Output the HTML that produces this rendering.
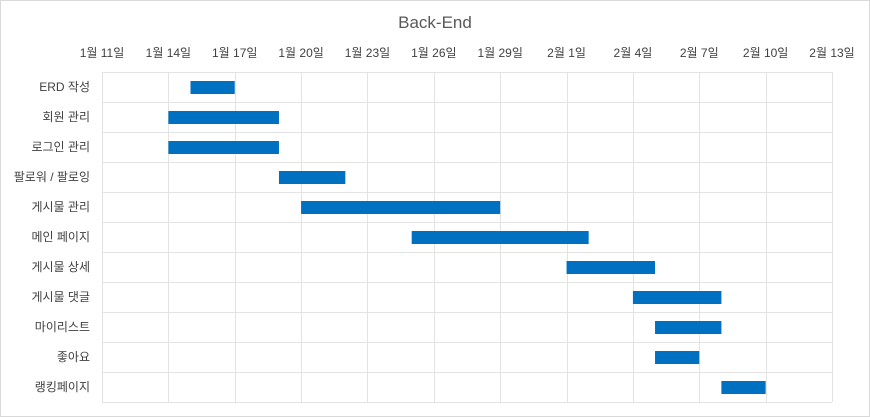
<!DOCTYPE html>
<html><head><meta charset="utf-8">
<style>
html,body{margin:0;padding:0;background:#fff;}
svg{display:block;font-family:"Liberation Sans","Noto Sans CJK KR",sans-serif;}
</style></head>
<body>
<svg id="chart" width="870" height="417" viewBox="0 0 870 417">
<rect x="0.5" y="0.5" width="869" height="416" fill="#fff" stroke="#d9d9d9"/>
<text x="435" y="28" text-anchor="middle" font-size="17" fill="#595959">Back-End</text>
<g id="grid"></g><g id="xticks"></g><g id="ylabels"></g><g id="bars"></g>
</svg>
<script>
const tasks=["ERD 작성","회원 관리","로그인 관리","팔로워 / 팔로잉","게시물 관리","메인 페이지","게시물 상세","게시물 댓글","마이리스트","좋아요","랭킹페이지"];
const startDays=[4,3,3,8,9,14,21,24,25,25,28];
const durations=[2,5,5,3,9,8,4,4,3,2,2];
const tickDays=[0,3,6,9,12,15,18,21,24,27,30,33];
const tickLabels=["1월 11일","1월 14일","1월 17일","1월 20일","1월 23일","1월 26일","1월 29일","2월 1일","2월 4일","2월 7일","2월 10일","2월 13일"];
const NS="http://www.w3.org/2000/svg";
const x0=102,x1=832,dMax=33,y0=72,rowH=30;
const xs=d=>x0+(x1-x0)*d/dMax;
const ys=i=>y0+i*rowH;
function mk(t,a,p){const e=document.createElementNS(NS,t);for(const k in a)e.setAttribute(k,a[k]);p.appendChild(e);return e;}
const grid=document.getElementById('grid'),xt=document.getElementById('xticks'),yl=document.getElementById('ylabels'),bars=document.getElementById('bars');
for(let i=0;i<=tasks.length;i++){
  const l=mk('line',{x1:x0,x2:x1,y1:ys(i)+0.5,y2:ys(i)+0.5,stroke:'#e3e3e3'},grid);
  
  
}
tickDays.forEach((d,i)=>{
  const l=mk('line',{x1:Math.round(xs(d))+0.5,x2:Math.round(xs(d))+0.5,y1:y0,y2:ys(tasks.length),stroke:'#e3e3e3'},grid);
  
  
  const t=mk('text',{x:xs(d),y:57,'text-anchor':'middle','font-size':'12',fill:'#404040'},xt);
  t.textContent=tickLabels[i];
  
  
});
tasks.forEach((n,i)=>{
  const t=mk('text',{x:90,y:ys(i)+19,'text-anchor':'end','font-size':'12',fill:'#404040'},yl);
  t.textContent=n;
  
  
  const b=mk('rect',{x:xs(startDays[i]),y:ys(i)+9,width:xs(startDays[i]+durations[i])-xs(startDays[i]),height:13,fill:'#0070c0'},bars);
  
  
});
</script>
</body></html>
